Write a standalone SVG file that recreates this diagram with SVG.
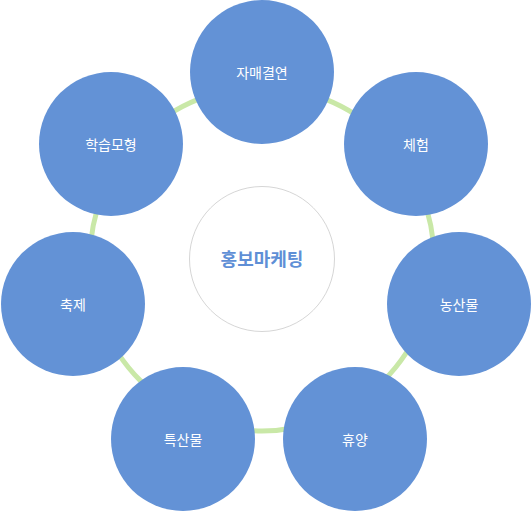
<svg xmlns="http://www.w3.org/2000/svg" width="532" height="511" viewBox="0 0 532 511">
<style>
.ring{fill:none;stroke:#c9e8a7;stroke-width:5}
.node{fill:#6392d6}
.lbl{font-family:"Noto Sans CJK KR","Noto Sans",sans-serif;font-size:14px;fill:#ffffff;text-anchor:middle}
.hub{fill:#ffffff;stroke:#d6d6d6;stroke-width:1}
.hublbl{font-family:"Noto Sans CJK KR","Noto Sans",sans-serif;font-size:18px;font-weight:bold;fill:#5f8fd6;text-anchor:middle}
</style>
<rect width="532" height="511" fill="#ffffff"/>
<g id="connectors">
<circle class="ring" cx="262" cy="259" r="172"/>
</g>
<g id="hub">
<circle class="hub" cx="262" cy="259" r="72.5"/>
<text class="hublbl" x="262" y="266">홍보마케팅</text>
</g>
<g id="n1">
<circle class="node" cx="262" cy="72" r="72"/>
<text class="lbl" x="262" y="78">자매결연</text>
</g>
<g id="n2">
<circle class="node" cx="416" cy="144" r="72"/>
<text class="lbl" x="416" y="150">체험</text>
</g>
<g id="n3">
<circle class="node" cx="459" cy="304" r="72"/>
<text class="lbl" x="459" y="310">농산물</text>
</g>
<g id="n4">
<circle class="node" cx="355" cy="439" r="72"/>
<text class="lbl" x="355" y="445">휴양</text>
</g>
<g id="n5">
<circle class="node" cx="183" cy="439" r="72"/>
<text class="lbl" x="183" y="445">특산물</text>
</g>
<g id="n6">
<circle class="node" cx="73" cy="304" r="72"/>
<text class="lbl" x="73" y="310">축제</text>
</g>
<g id="n7">
<circle class="node" cx="111" cy="144" r="72"/>
<text class="lbl" x="111" y="150">학습모형</text>
</g>
</svg>
